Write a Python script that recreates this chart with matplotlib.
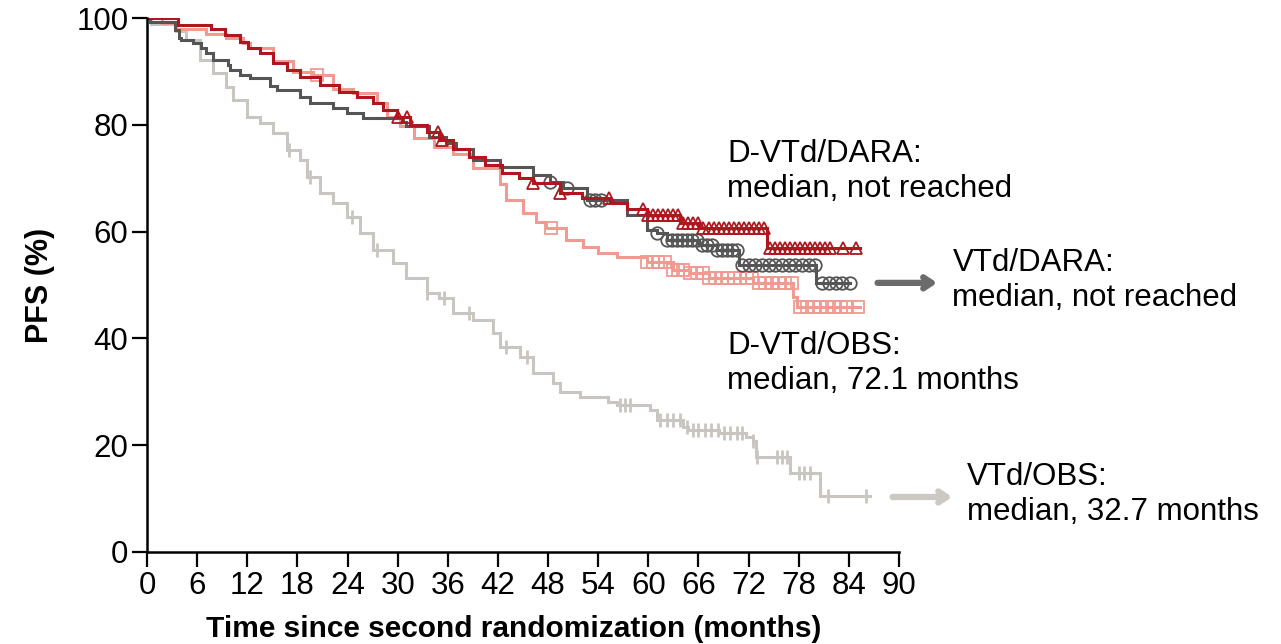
import numpy as np
import matplotlib
matplotlib.use("Agg")
from matplotlib import pyplot as plt

plt.rcParams['font.family'] = ['Liberation Sans', 'DejaVu Sans']

# VTd/OBS (light gray)
obs_vtd_t = [0, 0.5, 3.5, 4.7, 6.3, 7.9, 9.5, 10.3, 12, 13.5, 15.1, 16.7, 18.3, 19.1, 20.7,
             22.3, 23.9, 25.5, 27, 29.4, 31, 33.5, 35, 36.6, 39, 41.4, 42.2, 44.6, 46.2,
             48.6, 49.4, 51.8, 55.2, 56.3, 60.2, 61, 64.2, 64.8, 68.5, 71.7, 72.5, 72.9,
             76.9, 80.5, 86.5]
obs_vtd_s = [100, 98.8, 97.5, 95.9, 92.1, 89.7, 87.1, 84.6, 81.5, 80.3, 78.4, 75.3, 73.4, 70.2, 67.2,
             65.3, 62.7, 59.7, 56.6, 54.1, 51.3, 48.5, 47.5, 44.8, 43.4, 41, 38.4, 36.5, 33.5,
             31.6, 30, 29, 28.1, 27.5, 26.6, 24.7, 23.4, 22.8, 22.2, 21.6, 20.7, 17.8,
             14.8, 10.4, 10.4]
obs_vtd_cens = [17, 19.5, 24.5, 27.5, 33.5, 35.5, 38.5, 43, 45.5, 56.6, 57.2, 57.8, 61.4, 62.2,
                63, 63.8, 64.6, 65.4, 66, 66.8, 67.5, 68.3, 69, 69.8, 70.6, 71.2, 72.5, 73,
                75.4, 76, 76.6, 78, 78.6, 79.3, 81.5, 86.1]

# D-VTd/OBS (salmon)
obs_dvtd_t = [0, 1.8, 3.5, 7.1, 9.5, 11.5, 12.3, 15.1, 17.5, 19.9, 22.3, 24.7, 27.5, 28.7,
              30.3, 31.9, 34.3, 36.6, 39, 42.2, 43, 45, 46.6, 47.8, 50.2, 52.2, 54, 56.2,
              59.8, 62.9, 65, 67.3, 72.5, 77.3, 77.8, 85.3]
obs_dvtd_s = [100, 99, 98, 97.1, 96.2, 95.3, 94.3, 91.9, 89.9, 89.3, 86.8, 85.9, 84, 81.5,
              79.7, 77.5, 75.9, 74.5, 72, 69, 65.9, 63.5, 61.8, 60.7, 58.4, 57.1, 56, 55.2,
              54.3, 52.8, 52.2, 51.3, 50.3, 47.8, 45.9, 45.9]
obs_dvtd_cens = [20.3, 48.3, 59.8, 60.5, 61.2, 62, 62.9, 63.5, 64.2, 65, 65.8, 66.5, 67.3,
                 68, 68.8, 69.5, 70.3, 71, 71.8, 72.4, 73.2, 74, 74.8, 75.6, 76.4, 77.2,
                 78.2, 79, 79.8, 80.6, 81.4, 82.2, 83, 83.8, 85.1]

# VTd/DARA (dark gray)
dara_vtd_t = [0, 0.3, 3.35, 3.8, 4.1, 5.5, 6.5, 7, 7.9, 9.7, 9.9, 11.1, 12.3, 14.7, 15.5,
              18.3, 19.5, 22.3, 23.9, 25.8, 30.6, 31, 33.8, 35.8, 37, 39, 42.2, 46.2, 48.2,
              49.8, 52.6, 57.4, 59.8, 61, 62.2, 66.1, 68.2, 70.9, 80.1, 84.1]
dara_vtd_s = [100, 99.3, 97.8, 96.2, 95.9, 95.3, 94.3, 93.4, 92.1, 91.2, 90.3, 89.3, 88.7, 87.2, 86.5,
              85.3, 84, 83.1, 82.2, 81.3, 80.6, 79.7, 77.8, 76.6, 75.5, 73.4, 72.1, 70.6, 69.3,
              68.2, 65.9, 63.1, 60.3, 59.7, 58.4, 57.5, 56.6, 53.7, 50.3, 50.3]
dara_vtd_cens = [48.2, 50.3, 53, 53.6, 54.3, 61, 62.2, 62.8, 63.4, 64, 64.6, 65.2, 65.8,
                 66.4, 67, 67.6, 68.2, 68.8, 69.4, 70, 70.6, 71.2, 72, 72.8, 73.6, 74.4,
                 75.2, 76, 76.8, 77.6, 78.4, 79.2, 80, 80.8, 81.6, 82.4, 83.2, 84.1]

# D-VTd/DARA (dark red)
dara_dvtd_t = [0, 3.75, 7.7, 9.3, 11.1, 12.1, 13.5, 15.1, 16.7, 18.3, 20.7, 23, 25.1, 27,
               28.2, 29.9, 31.5, 33.5, 35, 36.6, 38.5, 40.5, 42.5, 44.5, 46.2, 49.4, 52,
               55.4, 57.5, 59.8, 63.8, 66.1, 74.2, 85.3]
dara_dvtd_s = [100, 98.7, 98, 96.8, 95.6, 94.3, 93.4, 91.5, 90.3, 89, 87.5, 86.2, 85.3, 84,
               82.8, 81.5, 80, 78.7, 77.2, 75.5, 74, 72.5, 71, 70, 69.1, 67.2, 66.3,
               65.3, 64.2, 63.1, 61.6, 60.7, 56.9, 56.9]
dara_dvtd_cens = [30, 31.1, 34.8, 35.3, 46.2, 49.4, 55.3, 59.4, 60, 60.6, 61.2, 61.8, 62.4,
                  63, 63.6, 64.2, 64.8, 65.4, 66, 66.6, 67.2, 67.8, 68.4, 69, 69.6, 70.2,
                  70.8, 71.4, 72, 72.6, 73.2, 73.8, 74.5, 75.2, 75.8, 76.4, 77, 77.6, 78.2,
                  78.8, 79.4, 80, 80.6, 81.2, 81.7, 83.3, 84.9]

x_ticks = [0, 6, 12, 18, 24, 30, 36, 42, 48, 54, 60, 66, 72, 78, 84, 90]
y_ticks = [0, 20, 40, 60, 80, 100]


def at(t, s, c):
    t = np.asarray(t)
    s = np.asarray(s)
    idx = np.searchsorted(t, c, side='right') - 1
    return s[idx]


fig = plt.figure(figsize=(12.81, 6.44), dpi=100)
ax = fig.add_axes([0.1148, 0.1429, 0.587, 0.8291])

series = [
    (obs_vtd_t, obs_vtd_s, obs_vtd_cens, '#c9c5c1', '|', 10),
    (obs_dvtd_t, obs_dvtd_s, obs_dvtd_cens, '#f19a92', 's', 8),
    (dara_vtd_t, dara_vtd_s, dara_vtd_cens, '#555555', 'o', 9),
    (dara_dvtd_t, dara_dvtd_s, dara_dvtd_cens, '#b0161e', '^', 9),
]
for t, s, cens, col, mk, ms in series:
    ax.step(t, s, where='post', color=col, lw=2.2, solid_joinstyle='miter')
    if mk == '|':
        ax.plot(cens, at(t, s, cens), ls='none', marker=mk, ms=ms, mew=2, color=col)
    else:
        ax.plot(cens, at(t, s, cens), ls='none', marker=mk, ms=ms, mew=1.3,
                mfc='none', mec=col)

ax.set_xlim(0, 90)
ax.set_ylim(0, 100)
ax.set_xticks(x_ticks)
ax.set_yticks(y_ticks)
ax.tick_params(labelsize=22.5, width=1.6, length=10.5, direction='out', pad=3)
for sp in ['top', 'right']:
    ax.spines[sp].set_visible(False)
for sp in ['left', 'bottom']:
    ax.spines[sp].set_linewidth(1.8)
ax.set_xlabel('Time since second randomization (months)', fontsize=21.5, fontweight='bold')
ax.xaxis.set_label_coords(0.487, -0.118)
ax.set_ylabel('PFS (%)', fontsize=22, fontweight='bold', labelpad=15)

# annotations
fs = 22.5
ax.text(69.4, 71.3, 'D-VTd/DARA:\nmedian, not reached', fontsize=fs, va='center', ha='left',
        linespacing=1.2)
ax.text(69.4, 35.3, 'D-VTd/OBS:\nmedian, 72.1 months', fontsize=fs, va='center', ha='left',
        linespacing=1.2)
ax.text(96.4, 50.8, 'VTd/DARA:\nmedian, not reached', fontsize=fs, va='center', ha='left',
        linespacing=1.2, clip_on=False)
ax.text(98.1, 10.8, 'VTd/OBS:\nmedian, 32.7 months', fontsize=fs, va='center', ha='left',
        linespacing=1.2, clip_on=False)
ax.annotate('', xy=(94.9, 50.4), xytext=(87.1, 50.4), annotation_clip=False,
            arrowprops=dict(arrowstyle='->,head_length=0.6,head_width=0.4', lw=4.5, color='#6b6b6b'))
ax.annotate('', xy=(96.7, 10.3), xytext=(88.9, 10.3), annotation_clip=False,
            arrowprops=dict(arrowstyle='->,head_length=0.6,head_width=0.4', lw=4.5, color='#ccc8c4'))

fig.savefig('out.png', dpi=100)
